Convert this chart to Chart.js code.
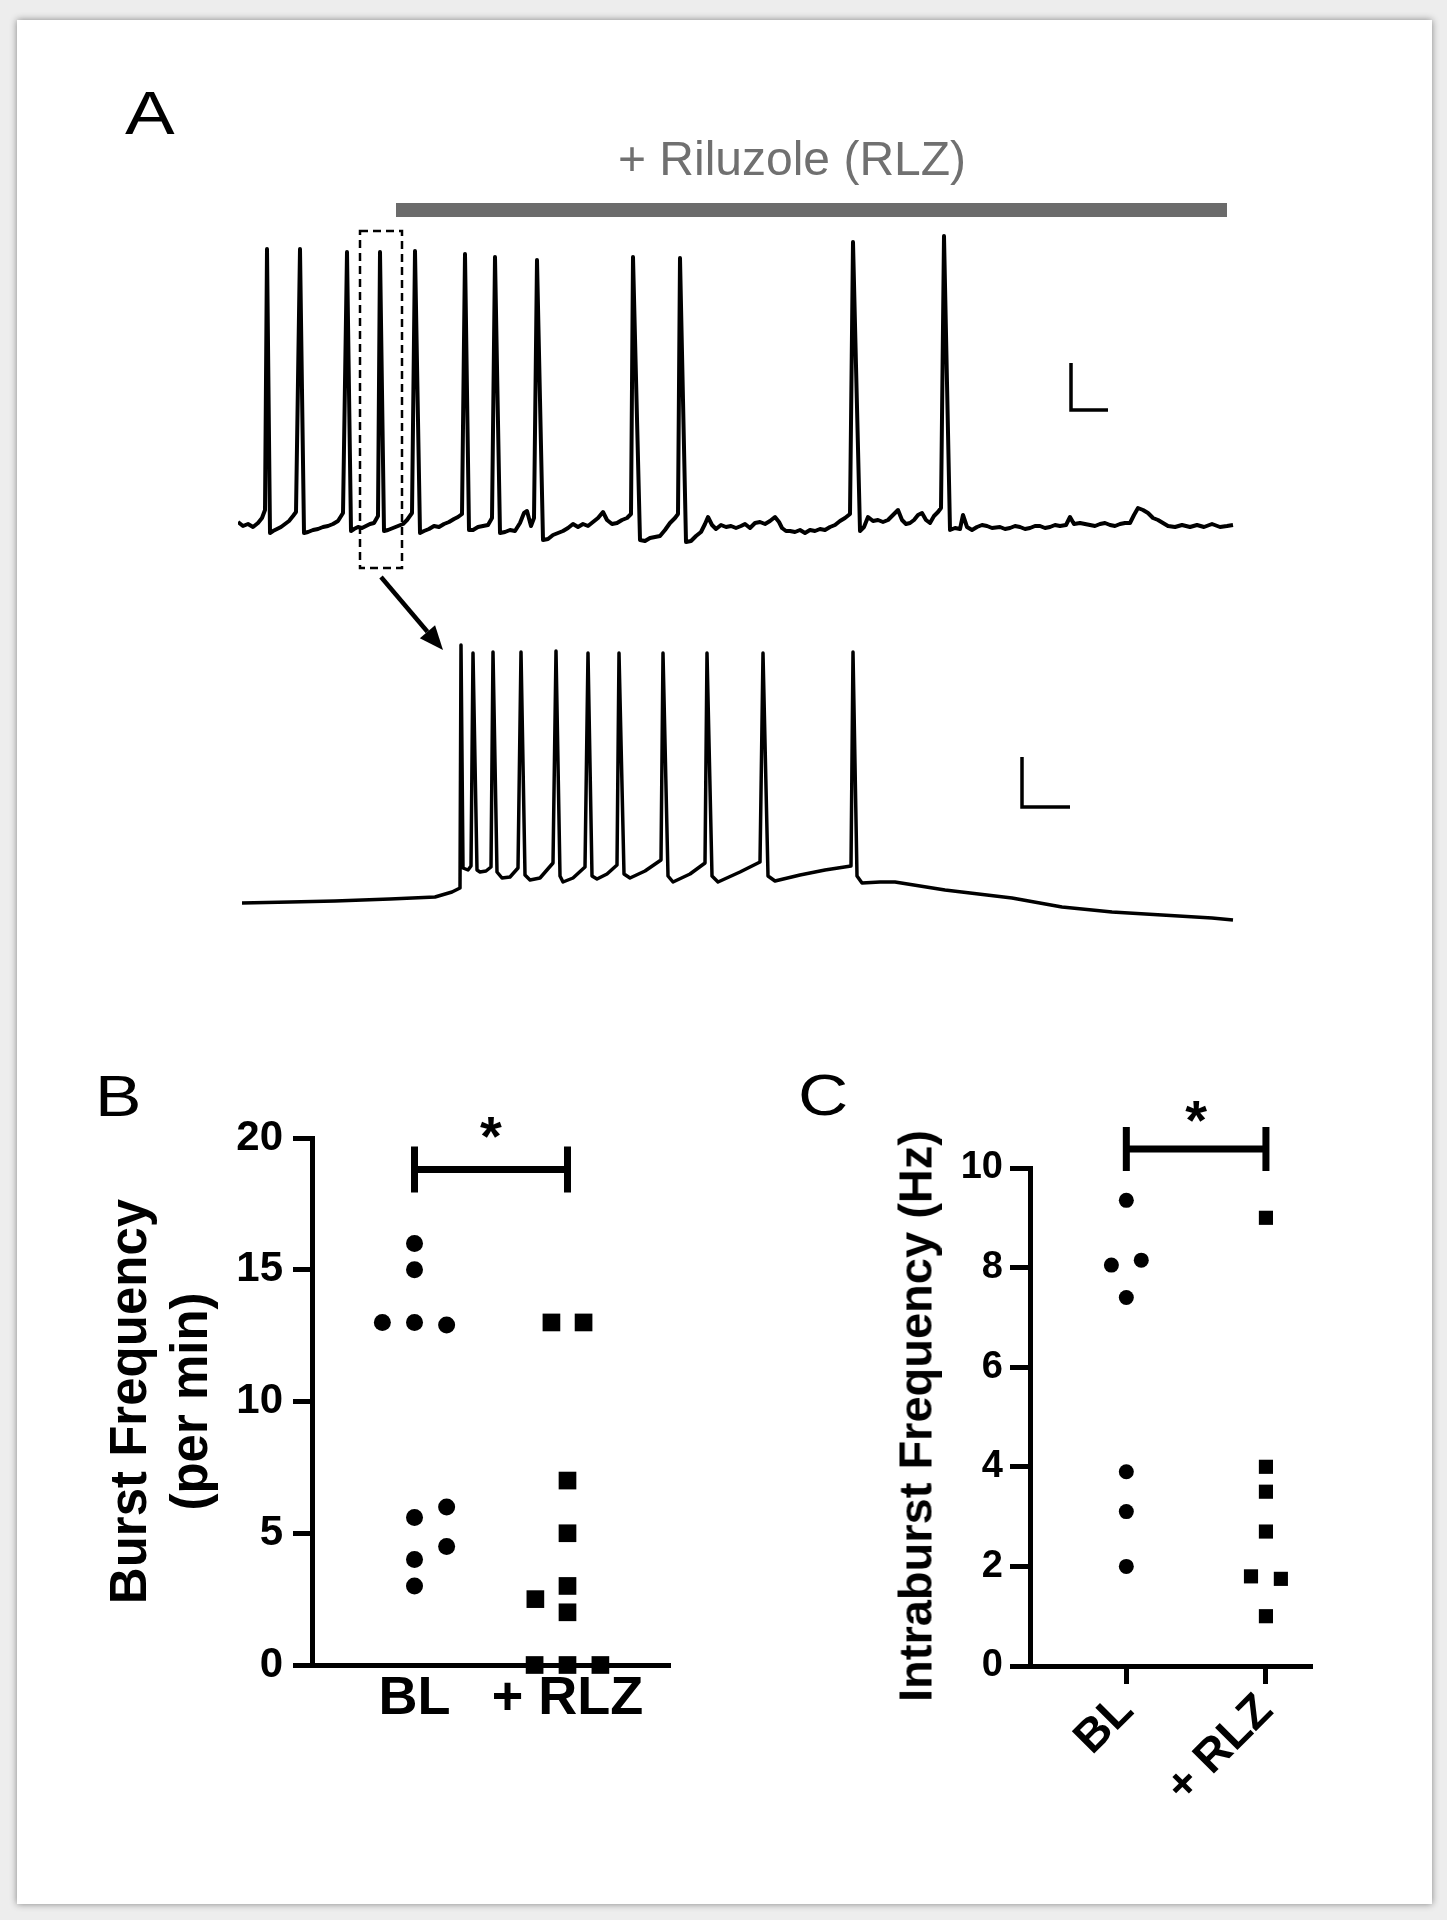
<!DOCTYPE html>
<html>
<head>
<meta charset="utf-8">
<script src="https://cdn.jsdelivr.net/npm/chart.js@4.4.1/dist/chart.umd.min.js"></script>
<style>
  html, body { margin: 0; padding: 0; background: #ededed; }
  #page { position: relative; width: 1447px; height: 1920px; overflow: hidden; font-family: "Liberation Sans", Arial, sans-serif; }
  #card { position: absolute; left: 17px; top: 20px; width: 1415px; height: 1884px; background: #fff; box-shadow: 0 0 7px rgba(0,0,0,0.45); }
  canvas { position: absolute; }
  .txt { position: absolute; line-height: 1; white-space: nowrap; color: #000; }
  .panel { transform: scaleX(1.2); transform-origin: left center; }
</style>
</head>
<body>
<div id="page">
  <div id="card"></div>
  <canvas id="panelA" width="1447" height="1000" style="left:0;top:0"></canvas>
  <canvas id="panelB" width="740" height="840" style="left:0;top:1040px"></canvas>
  <canvas id="panelC" width="680" height="840" style="left:740px;top:1040px"></canvas>

  <div class="txt panel" style="left:125px;top:82px;font-size:62px">A</div>
  <div class="txt" style="left:792px;top:135px;font-size:48px;color:#707070;transform:translateX(-50%)">+ Riluzole (RLZ)</div>
  <div class="txt panel" style="left:95px;top:1067px;font-size:58px">B</div>
  <div class="txt panel" style="left:798px;top:1066px;font-size:58px">C</div>
  <div class="txt" style="left:915px;top:1416px;font-size:47px;font-weight:bold;transform:translate(-50%,-50%) rotate(-90deg)">Intraburst Frequency (Hz)</div>
</div>

<script>
// Panel A: current-clamp traces (time in s, membrane potential in mV)

// top trace, whole recording
const topSpikeT = [2.9, 6.2, 10.9, 14.2, 17.7, 22.7, 25.7, 29.9, 39.5, 44.2, 61.5, 70.6];
const topSpikeMv = [-4.4, -4.4, -5.0, -5.0, -4.8, -5.4, -6.0, -6.6, -6.0, -6.2, -3.0, -1.8];
const topBase = [
  [0.0,-59.0],[0.5,-59.8],[1.0,-59.4],[1.5,-60.0],[2.0,-59.2],[2.4,-58.2],[2.7,-56.6],
  [3.2,-61.2],[3.5,-60.8],[3.9,-60.4],[4.3,-60.0],[4.7,-59.4],[5.1,-58.8],[5.5,-57.8],[5.8,-57.0],
  [6.6,-61.2],[7.0,-61.0],[7.5,-60.6],[8.0,-60.4],[8.5,-60.0],[9.0,-59.8],[9.5,-59.4],[10.0,-58.8],[10.5,-57.2],
  [11.3,-60.8],[11.6,-60.4],[12.0,-60.0],[12.4,-60.2],[12.8,-59.8],[13.2,-59.4],[13.6,-59.2],[14.0,-57.8],
  [14.6,-60.8],[15.0,-60.6],[15.5,-60.2],[16.0,-59.8],[16.5,-59.4],[16.9,-58.6],[17.4,-57.2],
  [18.2,-61.2],[18.6,-60.8],[19.1,-60.4],[19.6,-59.8],[20.1,-60.0],[20.6,-59.4],[21.1,-59.0],[21.6,-58.4],[22.0,-58.0],[22.4,-57.4],
  [23.1,-60.6],[23.5,-60.6],[24.0,-60.0],[24.5,-59.8],[25.0,-59.6],[25.4,-58.2],
  [26.2,-61.2],[26.7,-61.0],[27.2,-60.6],[27.7,-60.8],[28.2,-59.2],[28.6,-57.2],[28.9,-56.8],[29.3,-59.8],[29.6,-58.2],
  [30.5,-62.6],[31.0,-62.4],[31.5,-61.6],[32.0,-61.2],[32.5,-60.8],[33.0,-60.2],[33.5,-59.4],[34.0,-60.0],[34.5,-59.4],
  [35.0,-59.8],[35.5,-59.0],[36.0,-58.2],[36.5,-57.0],[36.9,-58.6],[37.4,-59.4],[37.9,-59.2],[38.4,-58.6],[38.9,-58.2],[39.3,-57.4],
  [40.2,-62.6],[40.7,-62.8],[41.2,-62.2],[41.7,-62.0],[42.2,-61.8],[42.7,-60.6],[43.2,-59.2],[43.7,-58.2],[44.0,-57.4],
  [44.8,-63.0],[45.3,-62.8],[45.8,-61.8],[46.3,-61.0],[46.7,-59.4],[47.0,-58.0],[47.4,-59.6],[47.8,-60.4],[48.3,-59.6],
  [48.8,-60.0],[49.3,-59.8],[49.8,-60.2],[50.3,-59.8],[50.7,-59.4],[51.2,-60.2],[51.7,-59.2],[52.2,-59.0],[52.7,-59.4],
  [53.2,-58.8],[53.7,-58.0],[54.1,-59.0],[54.4,-60.2],[54.8,-60.8],[55.2,-60.8],[55.7,-61.0],[56.2,-60.6],[56.7,-61.2],
  [57.2,-60.6],[57.7,-60.8],[58.2,-60.4],[58.7,-60.6],[59.2,-60.0],[59.7,-59.6],[60.2,-58.8],[60.7,-58.2],[61.2,-57.4],
  [62.2,-60.8],[62.6,-60.0],[63.0,-58.0],[63.5,-58.8],[64.0,-58.6],[64.5,-59.0],[65.0,-58.6],[65.5,-57.6],[66.0,-56.6],
  [66.4,-58.6],[66.8,-59.4],[67.2,-59.2],[67.6,-58.6],[68.0,-57.6],[68.4,-57.2],[68.8,-58.6],[69.2,-59.2],[69.6,-57.8],
  [70.0,-57.0],[70.3,-56.2],
  [71.2,-60.6],[71.7,-60.2],[72.2,-60.4],[72.5,-57.6],[72.9,-60.0],[73.4,-60.6],[73.9,-60.0],[74.4,-59.6],[74.9,-59.8],
  [75.4,-60.2],[76.2,-60.0],[76.7,-60.4],[77.2,-60.2],[77.7,-59.8],[78.2,-60.0],[78.7,-60.4],[79.2,-60.2],[79.7,-59.8],
  [80.2,-59.8],[80.7,-60.2],[81.2,-60.0],[81.7,-59.6],[82.2,-59.8],[82.8,-59.6],[83.2,-58.0],[83.6,-59.4],[84.2,-59.2],
  [84.7,-59.4],[85.2,-59.6],[85.7,-59.8],[86.2,-59.4],[86.7,-59.2],[87.2,-59.6],[87.7,-59.8],[88.2,-59.4],[88.7,-59.2],
  [89.2,-59.2],[89.6,-57.6],[90.0,-56.2],[90.5,-56.6],[91.0,-57.2],[91.5,-58.2],[92.0,-58.6],[92.5,-59.2],[93.0,-59.8],
  [93.7,-60.0],[94.4,-59.6],[95.2,-60.0],[95.9,-59.6],[96.6,-60.0],[97.4,-59.4],[98.2,-60.0],[98.9,-59.8],[99.5,-59.6]
];

// bottom trace, the boxed burst on an expanded time base
const botSpikeT = [2.23, 2.35, 2.55, 2.83, 3.18, 3.50, 3.81, 4.25, 4.69, 5.25, 6.15];
const botSpikeMv = [-8.4, -10.0, -9.8, -9.8, -9.6, -10.0, -10.0, -10.0, -10.0, -10.0, -9.8];
const botBase = [
  [0.04,-60.0],[0.52,-59.8],[0.97,-59.6],[1.52,-59.2],[1.97,-58.8],[2.14,-57.8],[2.22,-57.0],
  [2.25,-53.0],[2.30,-53.4],[2.33,-52.6],
  [2.39,-53.4],[2.42,-53.8],[2.48,-53.6],[2.53,-52.8],
  [2.59,-53.8],[2.64,-55.0],[2.72,-54.8],[2.80,-53.0],
  [2.87,-54.4],[2.92,-55.4],[3.02,-55.0],[3.15,-52.0],
  [3.22,-54.6],[3.25,-55.8],[3.35,-55.0],[3.47,-52.8],
  [3.54,-54.6],[3.59,-55.2],[3.69,-54.2],[3.79,-52.4],
  [3.86,-54.2],[3.92,-55.0],[4.07,-53.6],[4.23,-51.4],
  [4.30,-54.6],[4.35,-55.8],[4.52,-54.2],[4.67,-52.0],
  [4.74,-54.6],[4.80,-55.8],[5.02,-53.8],[5.22,-51.8],
  [5.30,-54.6],[5.37,-55.6],[5.62,-54.4],[5.87,-53.4],[6.13,-52.6],
  [6.19,-54.6],[6.24,-56.0],[6.42,-55.8],[6.57,-55.8],[7.07,-57.4],[7.74,-59.0],[8.24,-60.8],
  [8.74,-61.8],[9.24,-62.4],[9.74,-63.0],[9.95,-63.4]
];

const drugOn = [15.8, 98.9];        // riluzole application, s
const zoomWindow = [12.2, 16.4];    // boxed part of the top trace, s
const zoomMv = [-68.2, -0.8];

// Panels B and C: one value per cell
const groups = ['BL', '+ RLZ'];
const burstBL = [16, 15, 13, 13, 12.9, 6.0, 5.6, 4.5, 4.0, 3.0];
const burstBLJitter = [0, 0, -0.21, 0, 0.21, 0.21, 0, 0.21, 0, 0];
const burstRLZ = [13, 13, 7, 5, 3, 2.5, 2, 0, 0, 0];
const burstRLZJitter = [-0.105, 0.105, 0, 0, 0, -0.21, 0, -0.215, 0, 0.215];

const intraBL = [9.35, 8.05, 8.15, 7.4, 3.9, 3.1, 2.0];
const intraBLJitter = [0, -0.107, 0.107, 0, 0, 0, 0];
const intraRLZ = [9.0, 4.0, 3.5, 2.7, 1.8, 1.75, 1.0];
const intraRLZJitter = [0, 0, 0, 0, -0.107, 0.107, 0];

const FONT = '"Liberation Sans", Arial, sans-serif';
Chart.defaults.font.family = FONT;
Chart.defaults.color = '#000';

function mergeTrace(base, spikeT, spikeMv) {
  const pts = base.map(p => ({x: p[0], y: p[1]}));
  spikeT.forEach((t, i) => pts.push({x: t, y: spikeMv[i]}));
  return pts.sort((a, b) => a.x - b.x);
}

// ---- Panel A ----
const panelAOverlay = {
  id: 'panelAOverlay',
  afterDatasetsDraw(chart) {
    const {ctx} = chart;
    const {xTop, yTop, xBot, yBot} = chart.scales;
    ctx.save();
    ctx.strokeStyle = '#000';
    ctx.fillStyle = '#000';

    // dashed box
    ctx.lineWidth = 2.5;
    ctx.setLineDash([8, 5]);
    const bx1 = xTop.getPixelForValue(zoomWindow[0]);
    const bx2 = xTop.getPixelForValue(zoomWindow[1]);
    const by1 = yTop.getPixelForValue(zoomMv[1]);
    const by2 = yTop.getPixelForValue(zoomMv[0]);
    ctx.strokeRect(bx1, by1, bx2 - bx1, by2 - by1);
    ctx.setLineDash([]);

    // arrow from the box to the expanded burst
    const ax1 = xTop.getPixelForValue(14.3), ay1 = yTop.getPixelForValue(-70);
    const ax2 = xBot.getPixelForValue(2.05), ay2 = yBot.getPixelForValue(-9.4);
    const ang = Math.atan2(ay2 - ay1, ax2 - ax1);
    const head = 24, half = 10;
    ctx.lineWidth = 4.5;
    ctx.beginPath();
    ctx.moveTo(ax1, ay1);
    ctx.lineTo(ax2 - head * Math.cos(ang), ay2 - head * Math.sin(ang));
    ctx.stroke();
    ctx.beginPath();
    ctx.moveTo(ax2, ay2);
    ctx.lineTo(ax2 - head * Math.cos(ang) + half * Math.sin(ang), ay2 - head * Math.sin(ang) - half * Math.cos(ang));
    ctx.lineTo(ax2 - head * Math.cos(ang) - half * Math.sin(ang), ay2 - head * Math.sin(ang) + half * Math.cos(ang));
    ctx.closePath();
    ctx.fill();

    // scale bars
    ctx.lineWidth = 3.5;
    const bar = (xs, ys, x0, y0, dx, dy) => {
      ctx.beginPath();
      ctx.moveTo(xs.getPixelForValue(x0), ys.getPixelForValue(y0 + dy));
      ctx.lineTo(xs.getPixelForValue(x0), ys.getPixelForValue(y0));
      ctx.lineTo(xs.getPixelForValue(x0 + dx), ys.getPixelForValue(y0));
      ctx.stroke();
    };
    bar(xTop, yTop, 83.3, -36.6, 3.7, 9.4);
    bar(xBot, yBot, 7.84, -40.8, 0.48, 10);
    ctx.restore();
  }
};

new Chart(document.getElementById('panelA'), {
  type: 'line',
  data: {
    datasets: [
      {data: mergeTrace(topBase, topSpikeT, topSpikeMv), xAxisID: 'xTop', yAxisID: 'yTop',
       borderColor: '#000', borderWidth: 4, pointRadius: 0, borderJoinStyle: 'round', tension: 0},
      {data: mergeTrace(botBase, botSpikeT, botSpikeMv), xAxisID: 'xBot', yAxisID: 'yBot',
       borderColor: '#000', borderWidth: 3.5, pointRadius: 0, borderJoinStyle: 'round', tension: 0},
      {data: drugOn.map(t => ({x: t, y: 3.4})), xAxisID: 'xTop', yAxisID: 'yTop',
       borderColor: '#6b6b6b', borderWidth: 14, borderCapStyle: 'butt', pointRadius: 0}
    ]
  },
  options: {
    responsive: false,
    animation: false,
    layout: {padding: {left: 238, right: 209, top: 200, bottom: 60}},
    plugins: {legend: {display: false}, tooltip: {enabled: false}},
    scales: {
      xTop: {type: 'linear', axis: 'x', display: false, min: 0, max: 100},
      xBot: {type: 'linear', axis: 'x', display: false, min: 0, max: 10},
      yTop: {type: 'linear', axis: 'y', display: false, min: -142.6, max: 5.4},
      yBot: {type: 'linear', axis: 'y', display: false, min: -67.4, max: 80.6}
    }
  },
  plugins: [panelAOverlay]
});

// ---- Panels B and C ----
function sigPlugin(yVal, tickPx, starDy) {
  return {
    id: 'sig',
    afterDraw(chart) {
      const {ctx, scales: {x, y}} = chart;
      const x1 = x.getPixelForValue(1), x2 = x.getPixelForValue(2);
      const yy = y.getPixelForValue(yVal);
      ctx.save();
      ctx.strokeStyle = '#000';
      ctx.lineWidth = 7;
      ctx.beginPath();
      ctx.moveTo(x1, yy); ctx.lineTo(x2, yy);
      ctx.moveTo(x1, yy - tickPx); ctx.lineTo(x1, yy + tickPx);
      ctx.moveTo(x2, yy - tickPx); ctx.lineTo(x2, yy + tickPx);
      ctx.stroke();
      ctx.fillStyle = '#000';
      ctx.font = 'bold 56px ' + FONT;
      ctx.textAlign = 'center';
      ctx.textBaseline = 'alphabetic';
      ctx.fillText('*', (x1 + x2) / 2, yy + starDy);
      ctx.restore();
    }
  };
}

function groupTicks(scale) {
  scale.ticks = groups.map((g, i) => ({value: i + 1}));
}

new Chart(document.getElementById('panelB'), {
  type: 'scatter',
  data: {
    datasets: [
      {data: burstBL.map((v, i) => ({x: 1 + burstBLJitter[i], y: v})),
       pointStyle: 'circle', pointRadius: 8.5, backgroundColor: '#000', borderWidth: 0},
      {data: burstRLZ.map((v, i) => ({x: 2 + burstRLZJitter[i], y: v})),
       pointStyle: 'rect', pointRadius: 12.5, backgroundColor: '#000', borderWidth: 0}
    ]
  },
  options: {
    responsive: false,
    animation: false,
    clip: false,
    layout: {padding: {left: 101, right: 70, top: 98, bottom: 115}},
    plugins: {legend: {display: false}, tooltip: {enabled: false}},
    scales: {
      x: {
        type: 'linear', min: 0.33, max: 2.67,
        afterBuildTicks: groupTicks,
        afterFit: s => { s.height = 100; },
        ticks: {callback: v => groups[v - 1], font: {size: 54, weight: 'bold'}, color: '#000',
                padding: 2, autoSkip: false, maxRotation: 0},
        grid: {display: false, drawTicks: false},
        border: {color: '#000', width: 5}
      },
      y: {
        min: 0, max: 20,
        afterFit: s => { s.width = 211; },
        ticks: {stepSize: 5, font: {size: 42, weight: 'bold'}, color: '#000', padding: 10},
        grid: {drawOnChartArea: false, tickLength: 19, tickWidth: 5, color: '#000'},
        border: {color: '#000', width: 5},
        title: {display: true, text: ['Burst Frequency', '(per min)'], color: '#000',
                font: {size: 51, weight: 'bold', lineHeight: 1.2}, padding: 0}
      }
    }
  },
  plugins: [sigPlugin(18.8, 23, -15)]
});

new Chart(document.getElementById('panelC'), {
  type: 'scatter',
  data: {
    datasets: [
      {data: intraBL.map((v, i) => ({x: 1 + intraBLJitter[i], y: v})),
       pointStyle: 'circle', pointRadius: 7.5, backgroundColor: '#000', borderWidth: 0},
      {data: intraRLZ.map((v, i) => ({x: 2 + intraRLZJitter[i], y: v})),
       pointStyle: 'rect', pointRadius: 10, backgroundColor: '#000', borderWidth: 0}
    ]
  },
  options: {
    responsive: false,
    animation: false,
    clip: false,
    layout: {padding: {left: 190, right: 108, top: 128, bottom: 64}},
    plugins: {legend: {display: false}, tooltip: {enabled: false}},
    scales: {
      x: {
        type: 'linear', min: 0.31, max: 2.33,
        afterBuildTicks: groupTicks,
        afterFit: s => { s.height = 150; },
        ticks: {callback: v => groups[v - 1], font: {size: 46, weight: 'bold'}, color: '#000',
                padding: 0, autoSkip: false, minRotation: 45, maxRotation: 45},
        grid: {drawOnChartArea: false, tickLength: 18, tickWidth: 5, color: '#000'},
        border: {color: '#000', width: 5}
      },
      y: {
        min: 0, max: 10,
        afterFit: s => { s.width = 100; },
        ticks: {stepSize: 2, font: {size: 38, weight: 'bold'}, color: '#000', padding: 7},
        grid: {drawOnChartArea: false, tickLength: 20, tickWidth: 5, color: '#000'},
        border: {color: '#000', width: 5}
      }
    }
  },
  plugins: [sigPlugin(10.38, 22, -10)]
});
</script>
</body>
</html>
